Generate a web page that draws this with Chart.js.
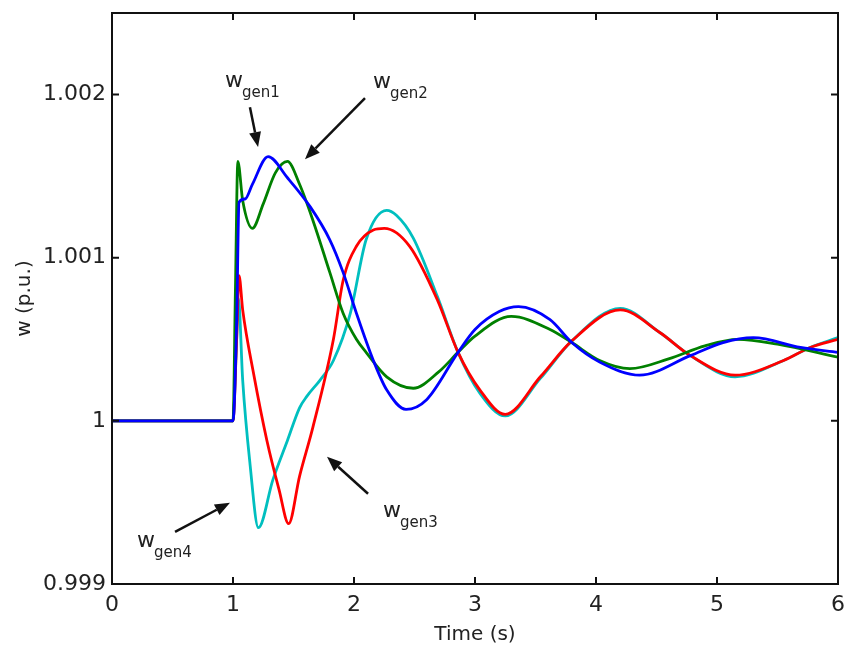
<!DOCTYPE html>
<html>
<head>
<meta charset="utf-8">
<script src="https://cdn.jsdelivr.net/npm/chart.js@4.4.0/dist/chart.umd.min.js"></script>
<style>
  html, body { margin: 0; padding: 0; background: #fff; overflow: hidden; }
  canvas { display: block; }
</style>
</head>
<body>
<canvas id="speedChart" width="845" height="647"></canvas>
<script>
// rotor speeds after the disturbance at t = 1 s
var gen1Time  = [0, 1.0, 1.03, 1.05, 1.10, 1.16, 1.29, 1.45, 1.64, 1.80, 1.91, 2.02, 2.16, 2.27, 2.43, 2.60, 2.86, 3.00, 3.20, 3.36, 3.62, 3.80, 4.03, 4.36, 4.78, 5.05, 5.30, 5.69, 6.00];
var gen1Speed = [1, 1, 1.00060, 1.00134, 1.00136, 1.00145, 1.00162, 1.00149, 1.00131, 1.00111, 1.00091, 1.00066, 1.00037, 1.00019, 1.00007, 1.00013, 1.00042, 1.00056, 1.00067, 1.00070, 1.00062, 1.00048, 1.00036, 1.00028, 1.00040, 1.00048, 1.00051, 1.00045, 1.00042];

var gen2Time  = [0, 1.0, 1.02, 1.04, 1.08, 1.16, 1.25, 1.35, 1.45, 1.55, 1.66, 1.80, 1.91, 2.02, 2.10, 2.27, 2.49, 2.70, 2.86, 3.00, 3.30, 3.62, 3.80, 4.03, 4.28, 4.60, 4.90, 5.17, 5.50, 6.00];
var gen2Speed = [1, 1, 1.00080, 1.00159, 1.00135, 1.00118, 1.00133, 1.00152, 1.00159, 1.00145, 1.00123, 1.00091, 1.00066, 1.00050, 1.00042, 1.00027, 1.00020, 1.00030, 1.00042, 1.00052, 1.00064, 1.00056, 1.00048, 1.00037, 1.00032, 1.00038, 1.00046, 1.00050, 1.00047, 1.00039];

var gen3Time  = [0, 1.0, 1.03, 1.05, 1.08, 1.17, 1.28, 1.38, 1.46, 1.55, 1.66, 1.83, 1.91, 2.02, 2.16, 2.25, 2.46, 2.69, 2.86, 3.04, 3.25, 3.54, 3.80, 4.20, 4.53, 4.78, 5.15, 5.55, 5.77, 6.00];
var gen3Speed = [1, 1, 1.00050, 1.00089, 1.00068, 1.00029, 0.99988, 0.99958, 0.99937, 0.99966, 0.99996, 1.00050, 1.00086, 1.00107, 1.00117, 1.00118, 1.00107, 1.00074, 1.00042, 1.00019, 1.00004, 1.00027, 1.00049, 1.00068, 1.00054, 1.00040, 1.00028, 1.00037, 1.00045, 1.00050];

var gen4Time  = [0, 1.0, 1.025, 1.045, 1.08, 1.14, 1.21, 1.33, 1.45, 1.55, 1.61, 1.72, 1.83, 1.97, 2.10, 2.27, 2.35, 2.49, 2.69, 2.86, 3.04, 3.25, 3.54, 3.80, 4.20, 4.53, 4.78, 5.15, 5.55, 5.77, 6.00];
var gen4Speed = [1, 1, 1.00040, 1.00075, 1.00025, 0.99974, 0.999345, 0.99964, 0.99988, 1.00008, 1.00015, 1.00025, 1.00037, 1.00066, 1.00111, 1.00129, 1.00126, 1.00112, 1.00076, 1.00042, 1.00017, 1.00003, 1.00026, 1.00049, 1.00069, 1.00054, 1.00040, 1.00027, 1.00037, 1.00045, 1.00051];

var xTicks = [0, 1, 2, 3, 4, 5, 6];
var yTicks = [0.999, 1, 1.001, 1.002];
var yTickLabels = ['0.999', '1', '1.001', '1.002'];

// "w gen" labels: left/baseline of the "w", and arrow start -> tip, in data units
var labelNames = ['gen1', 'gen2', 'gen3', 'gen4'];
var labelX = [0.934, 2.157, 2.240, 0.207];
var labelY = [1.002045, 1.002039, 0.999412, 0.999228];
var arrowFromX = [1.140, 2.091, 2.116, 0.521];
var arrowFromY = [1.001923, 1.001978, 0.999553, 0.999320];
var arrowToX = [1.207, 1.595, 1.777, 0.975];
var arrowToY = [1.001678, 1.001604, 0.999780, 0.999498];

function toPoints(times, values) {
  var pts = [];
  for (var i = 0; i < times.length; i++) {
    pts.push({x: times[i], y: values[i]});
  }
  return pts;
}

function makeSeries(label, times, values, color) {
  return {
    label: label,
    data: toPoints(times, values),
    borderColor: color,
    borderWidth: 2.8,
    pointRadius: 0,
    fill: false,
    cubicInterpolationMode: 'monotone'
  };
}

var FONT = '"DejaVu Sans", sans-serif';

var frameAndLabels = {
  id: 'frameAndLabels',
  afterDraw: function(chart) {
    var ctx = chart.ctx;
    var area = chart.chartArea;
    var xs = chart.scales.x;
    var ys = chart.scales.y;
    ctx.save();
    ctx.strokeStyle = '#111';
    ctx.lineWidth = 2;
    ctx.strokeRect(area.left, area.top, area.right - area.left, area.bottom - area.top);
    // inward ticks on every side
    ctx.lineWidth = 2;
    ctx.beginPath();
    yTicks.forEach(function(v) {
      var py = ys.getPixelForValue(v);
      ctx.moveTo(area.left, py); ctx.lineTo(area.left + 7, py);
      ctx.moveTo(area.right, py); ctx.lineTo(area.right - 7, py);
    });
    xTicks.forEach(function(v) {
      var px = xs.getPixelForValue(v);
      ctx.moveTo(px, area.bottom); ctx.lineTo(px, area.bottom - 7);
      ctx.moveTo(px, area.top); ctx.lineTo(px, area.top + 7);
    });
    ctx.stroke();

    // labels with subscript
    ctx.fillStyle = '#222';
    ctx.textBaseline = 'alphabetic';
    ctx.textAlign = 'left';
    for (var i = 0; i < labelNames.length; i++) {
      var lx = xs.getPixelForValue(labelX[i]);
      var ly = ys.getPixelForValue(labelY[i]);
      ctx.font = '22px ' + FONT;
      ctx.fillText('w', lx, ly);
      var wWidth = ctx.measureText('w').width;
      ctx.font = '15px ' + FONT;
      ctx.fillText(labelNames[i], lx + wWidth - 1, ly + 10);

      // arrow
      var x0 = xs.getPixelForValue(arrowFromX[i]);
      var y0 = ys.getPixelForValue(arrowFromY[i]);
      var x1 = xs.getPixelForValue(arrowToX[i]);
      var y1 = ys.getPixelForValue(arrowToY[i]);
      var ang = Math.atan2(y1 - y0, x1 - x0);
      var headLen = 15, headW = 6;
      var bx = x1 - headLen * Math.cos(ang);
      var by = y1 - headLen * Math.sin(ang);
      ctx.strokeStyle = '#111';
      ctx.fillStyle = '#111';
      ctx.lineWidth = 2.5;
      ctx.beginPath();
      ctx.moveTo(x0, y0);
      ctx.lineTo(bx, by);
      ctx.stroke();
      ctx.beginPath();
      ctx.moveTo(x1, y1);
      ctx.lineTo(bx + headW * Math.sin(ang), by - headW * Math.cos(ang));
      ctx.lineTo(bx - headW * Math.sin(ang), by + headW * Math.cos(ang));
      ctx.closePath();
      ctx.fill();
      ctx.fillStyle = '#222';
    }
    ctx.restore();
  }
};

var ctxSpeed = document.getElementById('speedChart');
var speedChart = new Chart(ctxSpeed, {
  type: 'line',
  data: {
    datasets: [
      makeSeries('w gen1', gen1Time, gen1Speed, '#0000ff'),
      makeSeries('w gen2', gen2Time, gen2Speed, '#008000'),
      makeSeries('w gen3', gen3Time, gen3Speed, '#ff0000'),
      makeSeries('w gen4', gen4Time, gen4Speed, '#00bfbf')
    ]
  },
  options: {
    responsive: false,
    animation: false,
    layout: { padding: { top: 13, right: 7, left: 0, bottom: 0 } },
    plugins: {
      legend: { display: false },
      tooltip: { enabled: false }
    },
    scales: {
      x: {
        type: 'linear',
        min: 0,
        max: 6,
        grid: { display: false, drawTicks: false },
        border: { display: false },
        afterBuildTicks: function(scale) {
          scale.ticks = xTicks.map(function(v) { return {value: v}; });
        },
        afterFit: function(scale) {
          scale.height = 63;
          scale.paddingLeft = 0;
          scale.paddingRight = 0;
        },
        ticks: {
          color: '#222',
          font: { family: FONT, size: 22 },
          padding: 8,
          maxRotation: 0
        },
        title: {
          display: true,
          text: 'Time (s)',
          color: '#222',
          font: { family: FONT, size: 20 },
          padding: { top: 3, bottom: 0 }
        }
      },
      y: {
        type: 'linear',
        min: 0.999,
        max: 1.0025,
        grid: { display: false, drawTicks: false },
        border: { display: false },
        afterBuildTicks: function(scale) {
          scale.ticks = yTicks.map(function(v) { return {value: v}; });
        },
        afterFit: function(scale) {
          scale.width = 112;
          scale.paddingTop = 0;
          scale.paddingBottom = 0;
        },
        ticks: {
          color: '#222',
          font: { family: FONT, size: 22 },
          padding: 6,
          callback: function(value, index) { return yTickLabels[index]; }
        },
        title: {
          display: true,
          text: 'w (p.u.)',
          color: '#222',
          font: { family: FONT, size: 20 },
          padding: { top: 13, bottom: 0 }
        }
      }
    }
  },
  plugins: [frameAndLabels]
});
</script>
</body>
</html>
